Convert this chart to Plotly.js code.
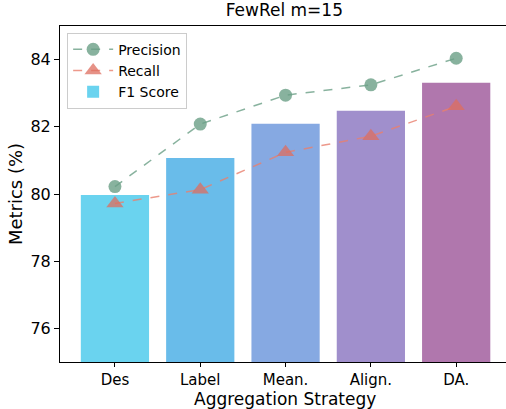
<!DOCTYPE html>
<html>
<head>
<meta charset="utf-8">
<script src="https://cdn.plot.ly/plotly-3.0.1.min.js"></script>
<style>html,body{margin:0;padding:0;background:#fff;}#chart{width:506px;height:409px;}</style>
</head>
<body>
<div id="chart"></div>
<script>
const categories = ["Des", "Label", "Mean.", "Align.", "DA."];
const precision = [80.22, 82.08, 82.94, 83.25, 84.04];
const recall = [79.72, 80.13, 81.24, 81.72, 82.61];
const f1 = [79.97, 81.07, 82.09, 82.48, 83.31];
const barColors = ["#6AD3EF", "#69BCEA", "#86A9E2", "#A08FCC", "#B077AD"];
const yTicks = [76, 78, 80, 82, 84];

const xIdx = categories.map((c, i) => i);
const font = "DejaVu Sans, sans-serif";

const traces = [
  {
    type: "scatter", mode: "lines+markers", name: "Precision",
    x: xIdx, y: precision,
    line: {color: "rgba(106,159,134,0.8)", width: 1.5, dash: "dash"},
    marker: {symbol: "circle", size: 13, color: "rgba(106,159,134,0.8)"}
  },
  {
    type: "scatter", mode: "lines+markers", name: "Recall",
    x: xIdx, y: recall,
    line: {color: "rgba(233,128,110,0.8)", width: 1.5, dash: "dash"},
    marker: {symbol: "triangle-up", size: 15, color: "rgba(222,110,95,0.75)"}
  },
  {
    type: "bar", name: "F1 Score",
    x: xIdx, y: f1, width: 0.8,
    marker: {color: barColors, line: {width: 0}}
  }
];

const layout = {
  width: 506, height: 409,
  margin: {l: 59.5, r: 0, t: 26, b: 47},
  paper_bgcolor: "#fff", plot_bgcolor: "#fff",
  font: {family: font, color: "#000", size: 16},
  title: {text: "FewRel m=15", font: {size: 17, family: font}, x: 0.562, xanchor: "center", yref: "container", y: 1, yanchor: "top", pad: {t: 4}},
  showlegend: true,
  legend: {
    x: 0.016, y: 0.98, xanchor: "left", yanchor: "top",
    bgcolor: "rgba(255,255,255,0.8)", bordercolor: "#cccccc", borderwidth: 1,
    font: {size: 14, family: font}, traceorder: "normal", tracegroupgap: 0, itemwidth: 40
  },
  xaxis: {
    range: [-0.644, 4.584],
    tickmode: "array", tickvals: xIdx, ticktext: categories,
    showline: true, linecolor: "#000", linewidth: 1, mirror: true,
    ticks: "outside", ticklen: 4, tickcolor: "#000",
    showgrid: false, zeroline: false,
    tickfont: {size: 15, family: font}
  },
  yaxis: {
    range: [75, 85],
    tickmode: "array", tickvals: yTicks, ticktext: yTicks.map(String),
    showline: true, linecolor: "#000", linewidth: 1,
    ticks: "outside", ticklen: 5, tickcolor: "#000",
    showgrid: false, zeroline: false,
    tickfont: {size: 16, family: font},
    title: {text: "Metrics (%)", font: {size: 18, family: font}, standoff: 3}
  },
  annotations: [{
    text: "Aggregation Strategy", xref: "paper", yref: "paper",
    x: 0.505, y: 0, xanchor: "center", yanchor: "top", yshift: -26,
    showarrow: false, borderpad: 0, font: {size: 17, family: font, color: "#000"}
  }],
  bargap: 0.2
};

Plotly.newPlot("chart", traces, layout, {displayModeBar: false, staticPlot: true});
</script>
</body>
</html>
